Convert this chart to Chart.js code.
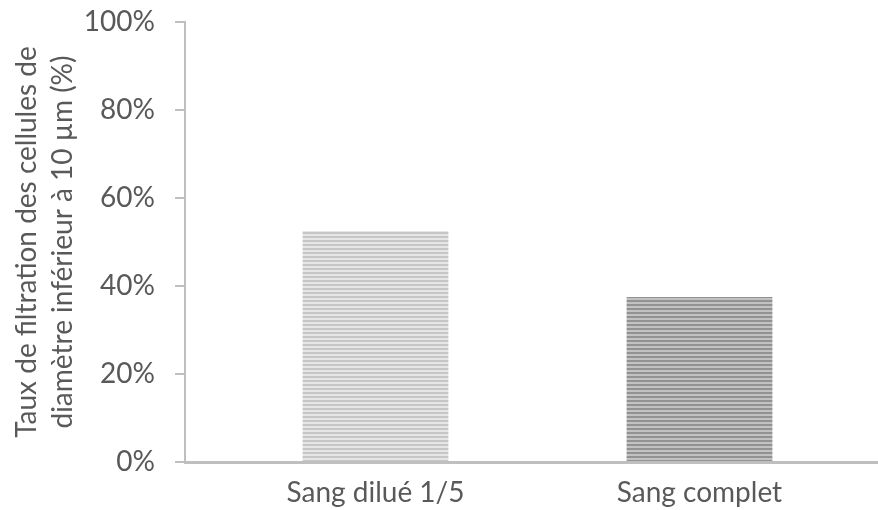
<!DOCTYPE html>
<html>
<head>
<meta charset="utf-8">
<script src="https://cdn.jsdelivr.net/npm/chart.js@4"></script>
<style>
  html, body { margin: 0; padding: 0; background: #fff; }
  #wrap { width: 878px; height: 510px; }
</style>
</head>
<body>
<div id="wrap"><canvas id="chart" width="878" height="510"></canvas></div>
<script>
// donnees
const categories = ['Sang dilué 1/5', 'Sang complet'];
const tauxFiltration = [52.5, 37.5];
const yTicks = [0, 20, 40, 60, 80, 100];
const yTitle = ['Taux de filtration des cellules de', 'diamètre inférieur à 10 µm (%)'];

const textColor = '#595959';
const axisColor = '#bfbfbf';
const fontFamily = 'Lato, "Open Sans", sans-serif';

// motif de rayures horizontales
function stripes(dark, light) {
    const c = document.createElement('canvas');
    c.width = 4;
    c.height = 4;
    const g = c.getContext('2d');
    g.fillStyle = light;
    g.fillRect(0, 0, 4, 4);
    g.fillStyle = dark;
    g.fillRect(0, 0, 4, 2);
    return g.createPattern(c, 'repeat');
}

const barColors = [stripes('#c6c6c6', '#e6e6e6'), stripes('#929292', '#c2c2c2')];

const ctx = document.getElementById('chart').getContext('2d');

new Chart(ctx, {
    type: 'bar',
    data: {
        datasets: [
            {
                data: tauxFiltration.map((v, i) => ({ x: i + 1, y: v })),
                backgroundColor: barColors,
                borderWidth: 0,
                categoryPercentage: 1,
                barPercentage: 0.45,
            },
        ],
    },
    options: {
        responsive: false,
        animation: false,
        layout: { padding: { top: 22, left: 0, right: 0, bottom: 0 } },
        plugins: {
            legend: { display: false },
            tooltip: { enabled: false },
        },
        scales: {
            x: {
                type: 'linear',
                offset: false,
                min: 0.412,
                max: 2.551,
                afterBuildTicks: (scale) => {
                    scale.ticks = categories.map((c, i) => ({ value: i + 1 }));
                },
                afterFit: (scale) => {
                    scale.height = 48;
                    scale.paddingRight = 0;
                },
                grid: { display: false, drawTicks: false },
                border: { color: axisColor, width: 3 },
                ticks: {
                    callback: (v) => categories[v - 1],
                    color: textColor,
                    font: { family: fontFamily, size: 28 },
                    padding: 14,
                    maxRotation: 0,
                    autoSkip: false,
                },
            },
            y: {
                min: 0,
                max: 100,
                afterBuildTicks: (scale) => {
                    scale.ticks = yTicks.map((v) => ({ value: v }));
                },
                afterFit: (scale) => {
                    scale.width = 185;
                    scale.paddingTop = 0;
                    scale.paddingBottom = 0;
                },
                grid: {
                    drawOnChartArea: false,
                    drawTicks: true,
                    tickLength: 10,
                    color: axisColor,
                    lineWidth: 2,
                },
                border: { color: axisColor, width: 2 },
                ticks: {
                    callback: (v) => v + '%',
                    color: textColor,
                    font: { family: fontFamily, size: 28 },
                    padding: 20,
                },
                title: {
                    display: true,
                    text: yTitle,
                    color: textColor,
                    font: { family: fontFamily, size: 28, lineHeight: 1.29 },
                    padding: { top: 9, bottom: 0 },
                },
            },
        },
    },
});
</script>
</body>
</html>
